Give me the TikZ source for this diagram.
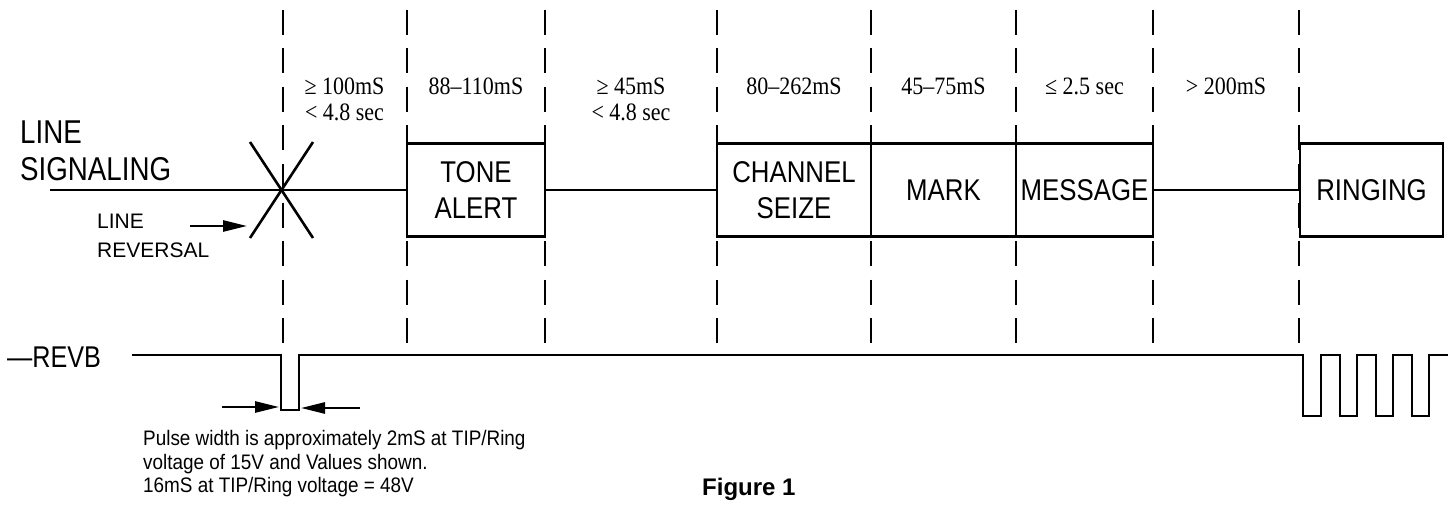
\documentclass[tikz,border=0pt]{standalone}
\usepackage{fontspec}
\setmainfont{Liberation Sans}
\newfontfamily\condf[FakeStretch=0.84]{Liberation Sans}
\newfontfamily\boxf[FakeStretch=0.86]{Liberation Sans}
\newfontfamily\notef[FakeStretch=0.9]{Liberation Sans}
\newfontfamily\serf[FakeStretch=0.88]{Liberation Serif}
\usetikzlibrary{arrows.meta}
\begin{document}
\begin{tikzpicture}[x=1pt,y=-1pt,
  sig/.style={line width=2.6pt},
  boxnode/.style={draw, fill=white, line width=2.6pt, inner sep=0pt, align=center,
    minimum height=93pt, font=\boxf\fontsize{30}{36}\selectfont},
  guide/.style={line width=2.8pt, dash pattern=on 25pt off 13.5pt},
  dur/.style={font=\serf\fontsize{25}{28}\selectfont, inner sep=0pt, anchor=base},
  big/.style={font=\condf\fontsize{33}{37}\selectfont, inner sep=0pt, anchor=base west},
  small/.style={font=\fontsize{21}{25}\selectfont, inner sep=0pt, anchor=base west},
  note/.style={font=\notef\fontsize{21}{24}\selectfont, inner sep=0pt, anchor=base west},
  arr/.style={-{Triangle[length=24pt,width=11pt]}, line width=2.6pt},
]
\fill[white] (0,0) rectangle (1456,508);
\useasboundingbox (0,0) rectangle (1456,508);

% dashed guides
\foreach \x in {283,407,545,717,871,1016,1153,1299}
  \draw[guide] (\x,10) -- (\x,343);

% boxes
\node[boxnode, minimum width=138pt] (tone) at (476,190) {TONE\\ALERT};
\node[boxnode, minimum width=154pt] (chan) at (794,190) {CHANNEL\\SEIZE};
\node[boxnode, minimum width=145pt] (mark) at (943.5,190) {MARK};
\node[boxnode, minimum width=137pt] (msg) at (1084.5,190) {MESSAGE};
\node[boxnode, minimum width=143pt] (ring) at (1371.5,190) {RINGING};

% signal line
\coordinate (sigstart) at (50,190);
\draw[sig] (sigstart) -- (tone.west);
\draw[sig] (tone.east) -- (chan.west);
\draw[sig] (msg.east) -- (ring.west);

% line reversal cross
\draw[sig] (250,142) -- (313,238);
\draw[sig] (313,142) -- (250,238);

% durations
\node[dur] (d1a) at (344.5,95) {≥ 100mS};
\node[dur] (d1b) at (344.5,121) {< 4.8 sec};
\node[dur] (d2) at (476,95) {88–110mS};
\node[dur] (d3a) at (631,95) {≥ 45mS};
\node[dur] (d3b) at (631,121) {< 4.8 sec};
\node[dur] (d4) at (794,95) {80–262mS};
\node[dur] (d5) at (943.5,95) {45–75mS};
\node[dur] (d6) at (1084.5,95) {≤ 2.5 sec};
\node[dur] (d7) at (1226,95) {> 200mS};

% left labels
\node[big] (ls1) at (20,143) {LINE};
\node[big] (ls2) at (20,180) {SIGNALING};
\node[small] (lr1) at (97,228) {LINE};
\node[small] (lr2) at (97,257) {REVERSAL};
\coordinate (ra) at (190,226);
\coordinate (rb) at (247,226);
\draw[arr] (ra) -- (rb);

% REVB
\node[font=\condf\fontsize{30}{36}\selectfont, inner sep=0pt, anchor=base west] (revb) at (7,367) {—REVB};
\coordinate (wstart) at (132,355);
\draw[sig] (wstart) -- (281,355) -- (281,410) -- (299,410) -- (299,355) -- (1303,355)
  -- (1303,416) -- (1321,416) -- (1321,355) -- (1340,355) -- (1340,416) -- (1357,416)
  -- (1357,355) -- (1376,355) -- (1376,416) -- (1393,416) -- (1393,355) -- (1412,355)
  -- (1412,416) -- (1429,416) -- (1429,355) -- (1448,355);

% pulse width arrows
\coordinate (pla) at (222,407);
\coordinate (plb) at (279,407);
\coordinate (pra) at (360,408);
\coordinate (prb) at (301,408);
\draw[arr] (pla) -- (plb);
\draw[arr] (pra) -- (prb);

% notes
\node[note] (n1) at (143,445) {Pulse width is approximately 2mS at TIP/Ring};
\node[note] (n2) at (143,469) {voltage of 15V and Values shown.};
\node[note] (n3) at (143,492) {16mS at TIP/Ring voltage = 48V};

\node[font=\bfseries\fontsize{24}{28}\selectfont, inner sep=0pt, anchor=base west] (fig) at (702,495) {Figure 1};
\end{tikzpicture}
\end{document}
